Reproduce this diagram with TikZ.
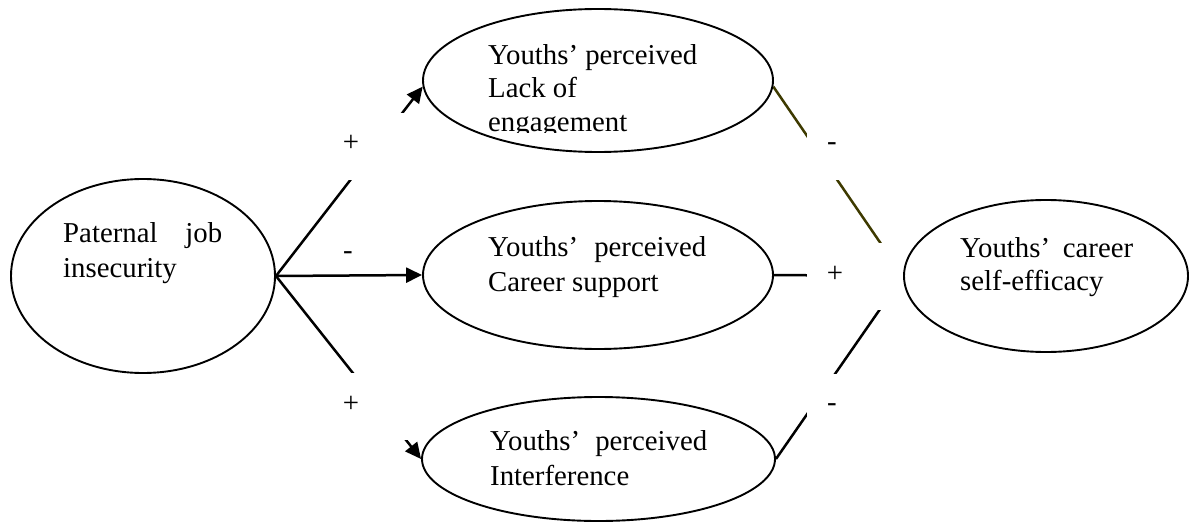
\documentclass[tikz,border=0pt]{standalone}
\usepackage{fontspec}
\setmainfont{Liberation Serif}
\usetikzlibrary{arrows.meta,shapes.geometric,backgrounds}
\definecolor{olivelink}{RGB}{62,58,0}
\begin{document}
\begin{tikzpicture}[x=1pt,y=-1pt,
  construct/.style={ellipse,draw=black,line width=1.9pt,fill=white,inner sep=0pt},
  txt/.style={anchor=base west,inner sep=0pt,font=\fontsize{28.8}{33}\selectfont},
  sign/.style={anchor=base,inner sep=0pt,font=\fontsize{28.8}{33}\selectfont},
  link/.style={line width=2.5pt},
  arrowlink/.style={link,-{Triangle[length=16pt,width=15pt]}},
  gapbox/.style={rectangle,fill=white,inner sep=0pt,minimum height=67pt},
]
\useasboundingbox (0,0) rectangle (1190,524);

% constructs
\node[construct,minimum width=264pt,minimum height=194pt] (P) at (143,276) {};
\node[construct,minimum width=350pt,minimum height=143pt] (L) at (598,80.5) {};
\node[construct,minimum width=350pt,minimum height=148pt] (C) at (598,275) {};
\node[construct,minimum width=353pt,minimum height=124pt] (I) at (598.5,459) {};
\node[construct,minimum width=284pt,minimum height=152pt] (S) at (1046,276) {};

% paths, partly hidden behind the sign boxes
\begin{pgfonlayer}{background}
\draw[arrowlink] (P.east) -- (L.182);
\draw[arrowlink] (P.east) -- (C.west);
\draw[arrowlink] (P.east) -- (I.west);
\draw[link,draw=olivelink] (L.358) -- (S.west);
\draw[link] (C.east) -- (S.west);
\draw[link] (I.east) -- (S.west);
\node[gapbox,minimum width=90pt] (boxLa) at (371,146.5) {};
\node[gapbox,minimum width=90pt] (boxLc) at (371,406.5) {};
\node[gapbox,minimum width=96pt] (boxRa) at (855,146.5) {};
\node[gapbox,minimum width=96pt] (boxRb) at (855,276.5) {};
\node[gapbox,minimum width=96pt] (boxRc) at (855,407.5) {};
\end{pgfonlayer}

% signs of the paths
\node[sign] (sLa) at (351,151) {+};
\node[sign] (sLb) at (348,259) {-};
\node[sign] (sLc) at (351,412) {+};
\node[sign] (sRa) at (832,150) {-};
\node[sign] (sRb) at (835,282) {+};
\node[sign] (sRc) at (832,411) {-};

% construct labels
\node[txt] (tP1) at (63,242) {\hbox to 159pt{Paternal\hfill job}};
\node[txt] (tP2) at (63,277) {insecurity};

\node[txt] (tL1) at (488,65) {Youths’ perceived};
\node[txt] (tL2) at (488,98) {Lack of};
\begin{scope}
  \clip (470,100) rectangle (720,132);
  \node[txt] (tL3) at (488,131.5) {engagement};
\end{scope}

\node[txt] (tC1) at (488,256) {\hbox to 218pt{Youths’\hfill perceived}};
\node[txt] (tC2) at (488,291) {Career support};

\node[txt] (tI1) at (490,450) {\hbox to 217pt{Youths’\hfill perceived}};
\node[txt] (tI2) at (490,485) {Interference};

\node[txt] (tS1) at (960,257) {\hbox to 173pt{Youths’\hfill career}};
\node[txt] (tS2) at (960,290) {self-efficacy};
\end{tikzpicture}
\end{document}
